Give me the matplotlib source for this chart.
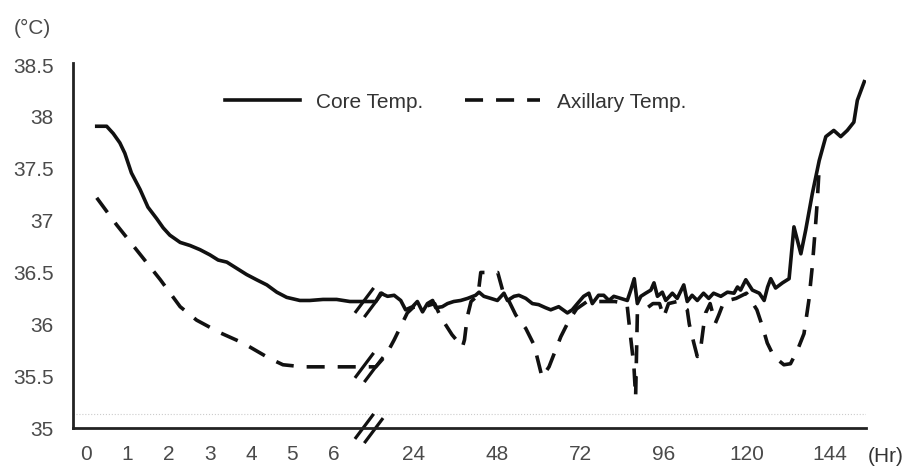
import numpy as np
import matplotlib
matplotlib.use("Agg")
import matplotlib.pyplot as plt
from matplotlib.path import Path

plt.rcParams['font.family'] = ['Liberation Sans', 'DejaVu Sans']

# core temperature (hours, °C)
core_hours = [0.26, 0.5, 0.66, 0.82, 0.94, 1.1, 1.31, 1.5, 1.71, 1.87, 2.03, 2.28, 2.52, 2.76,
              3.0, 3.2, 3.41, 3.65, 3.89, 4.13, 4.38, 4.62, 4.86, 5.18, 5.42, 5.74, 6.07, 6.39, 6.6,
              13, 14.4, 16.4, 18.3, 20.2, 21.6, 23.6, 25, 26.5, 27.9, 29.4, 30.3, 32.2, 33.7,
              35.5, 37.5, 39.5, 41.8, 42.8, 44.2, 46.2, 48.1, 50, 51, 52.9, 54.3, 56.3, 58.2,
              60, 62, 63.5, 65.8, 68.3, 69.7, 71.2, 73, 74.5, 75.5, 77.3, 78.8, 80.3, 81.7,
              83.7, 85.6, 86.6, 87.6, 88.5, 89.5, 90.9, 92.4, 93.3, 94.3, 95.7, 96.7, 98.6,
              100, 101.9, 102.9, 104.3, 105.8, 107.6, 109.1, 110.5, 112.6, 114.5, 116.4,
              117.4, 118.3, 119.8, 121.7, 123.7, 125.1, 126.1, 127, 128.4, 130.4, 132.3,
              133.7, 135.7, 137.1, 139.0, 141, 142.9, 145.2, 147.2, 149.1, 151.0, 152, 154]
core_temp = [37.91, 37.91, 37.84, 37.75, 37.65, 37.46, 37.30, 37.13, 37.02, 36.93, 36.86, 36.79,
             36.76, 36.72, 36.67, 36.62, 36.60, 36.54, 36.48, 36.43, 36.38, 36.31, 36.26, 36.23,
             36.23, 36.24, 36.24, 36.22, 36.22,
             36.22, 36.30, 36.27, 36.28, 36.23, 36.14, 36.17, 36.22, 36.12, 36.20, 36.23, 36.16,
             36.17, 36.20, 36.22, 36.23, 36.25, 36.28, 36.31, 36.27, 36.25, 36.23, 36.30, 36.23,
             36.27, 36.28, 36.25, 36.20, 36.19, 36.16, 36.14, 36.17, 36.11, 36.14, 36.20, 36.27,
             36.30, 36.20, 36.28, 36.28, 36.23, 36.27, 36.25, 36.23, 36.33, 36.44, 36.20, 36.27,
             36.30, 36.33, 36.40, 36.27, 36.31, 36.23, 36.30, 36.25, 36.38, 36.22, 36.28, 36.23,
             36.30, 36.25, 36.30, 36.27, 36.31, 36.30, 36.36, 36.33, 36.43, 36.33, 36.30, 36.23,
             36.36, 36.44, 36.35, 36.40, 36.44, 36.94, 36.68, 36.91, 37.26, 37.58, 37.81, 37.87,
             37.81, 37.87, 37.95, 38.16, 38.34]

# axillary temperature (hours, °C)
axil_hours = [0.26, 0.74, 1.22, 1.8, 2.28, 2.68, 3.24, 3.8, 4.45, 4.77, 5.26, 6.55,
              13, 15.9, 18.3, 20.2, 22.1, 24, 26, 28, 30, 31.2, 32.7, 35, 37, 38, 38.6, 39.4,
              40.5, 42.5, 43.3, 48.2, 50, 51.5, 53.4, 56.3, 58.7, 61, 63, 66.4, 68.8, 71, 74,
              78, 82, 85.5, 86.3, 87.5, 88.0, 88.5, 91, 93, 94.9, 96.1, 97.5, 100, 102.9,
              103.5, 104.8, 105.8, 106.7, 107.6, 108.2, 109.5, 111, 112, 113.5, 117, 120,
              123, 124.6, 126, 127.9, 130.8, 132.7, 134.7, 136.6, 138, 139, 139.9, 140.4, 140.9]
axil_temp = [37.22, 36.96, 36.72, 36.43, 36.17, 36.04, 35.92, 35.82, 35.67, 35.61, 35.59, 35.59,
             35.59, 35.70, 35.85, 35.98, 36.11, 36.17, 36.15, 36.18, 36.20, 36.11, 36.02, 35.90,
             35.82, 35.78, 35.85, 36.07, 36.22, 36.28, 36.50, 36.50, 36.28, 36.22, 36.09, 35.96,
             35.80, 35.49, 35.59, 35.88, 36.04, 36.15, 36.22, 36.22, 36.22, 36.20, 35.95, 35.60,
             35.30, 36.10, 36.15, 36.20, 36.20, 36.07, 36.20, 36.22, 36.14, 36.00, 35.82, 35.69,
             35.75, 35.98, 36.11, 36.20, 36.01, 36.09, 36.22, 36.25, 36.30, 36.14, 35.98, 35.82,
             35.69, 35.61, 35.62, 35.75, 35.91, 36.23, 36.56, 36.94, 37.17, 37.46]

x_ticks = [0, 1, 2, 3, 4, 5, 6, 24, 48, 72, 96, 120, 144]
y_ticks = [35, 35.5, 36, 36.5, 37, 37.5, 38, 38.5]

# broken time axis: first hours at full width, rest compressed
BRK = 6.85
T2 = 11.0
K = 3.465 / 41.3


def fwd(t):
    t = np.asarray(t, dtype=float)
    return np.where(t <= BRK, t, np.where(t < T2, BRK, BRK + (t - T2) * K))


def inv(p):
    p = np.asarray(p, dtype=float)
    return np.where(p <= BRK, p, T2 + (p - BRK) / K)


fig = plt.figure(figsize=(9.09, 4.66), dpi=100)
ax = fig.add_axes([0.0803, 0.0815, 0.8724, 0.7833])
ax.set_xscale('function', functions=(fwd, inv))

ax.plot(core_hours, core_temp, color='#111111', lw=2.6, label='Core Temp.',
        solid_joinstyle='round')
ax.plot(axil_hours, axil_temp, color='#111111', lw=2.6, dashes=(5, 3.6),
        label='Axillary Temp.')

ax.axhline(35.14, color='#cccccc', lw=0.8, ls=':')

# "//" break marks
brk = Path([(-14, -10), (4, 14), (-5, -14), (13, 10)],
           [Path.MOVETO, Path.LINETO, Path.MOVETO, Path.LINETO])
for yb in [36.22, 35.59, 35.0]:
    ax.plot([BRK], [yb], marker=brk, ms=21, mew=2.3, mec='#111111', mfc='none',
            ls='none', clip_on=False)

ax.set_xlim(-0.315, 154.5)
ax.set_ylim(35, 38.52)
ax.set_xticks(x_ticks)
ax.set_xticklabels([str(v) for v in x_ticks])
ax.set_yticks(y_ticks)
ax.set_yticklabels(['%g' % v for v in y_ticks])
ax.xaxis.set_minor_locator(matplotlib.ticker.NullLocator())
ax.tick_params(length=0, labelsize=15, colors='#4a4a4a')
ax.tick_params(axis='x', pad=12)
ax.tick_params(axis='y', pad=14)

for s in ['top', 'right']:
    ax.spines[s].set_visible(False)
for s in ['left', 'bottom']:
    ax.spines[s].set_color('#222222')
    ax.spines[s].set_linewidth(2)

ax.legend(loc='center left', bbox_to_anchor=(0.178, 0.893), ncol=2, frameon=False,
          fontsize=15, handlelength=3.6, handletextpad=0.8, columnspacing=2.0,
          borderpad=0, labelcolor='#333333')

fig.text(32 / 909, 1 - 28 / 466, '(°C)', ha='center', va='center', fontsize=15, color='#4a4a4a')
fig.text(886 / 909, 1 - 456 / 466, '(Hr)', ha='center', va='center', fontsize=15, color='#333333')

fig.savefig('out.png', dpi=100)
